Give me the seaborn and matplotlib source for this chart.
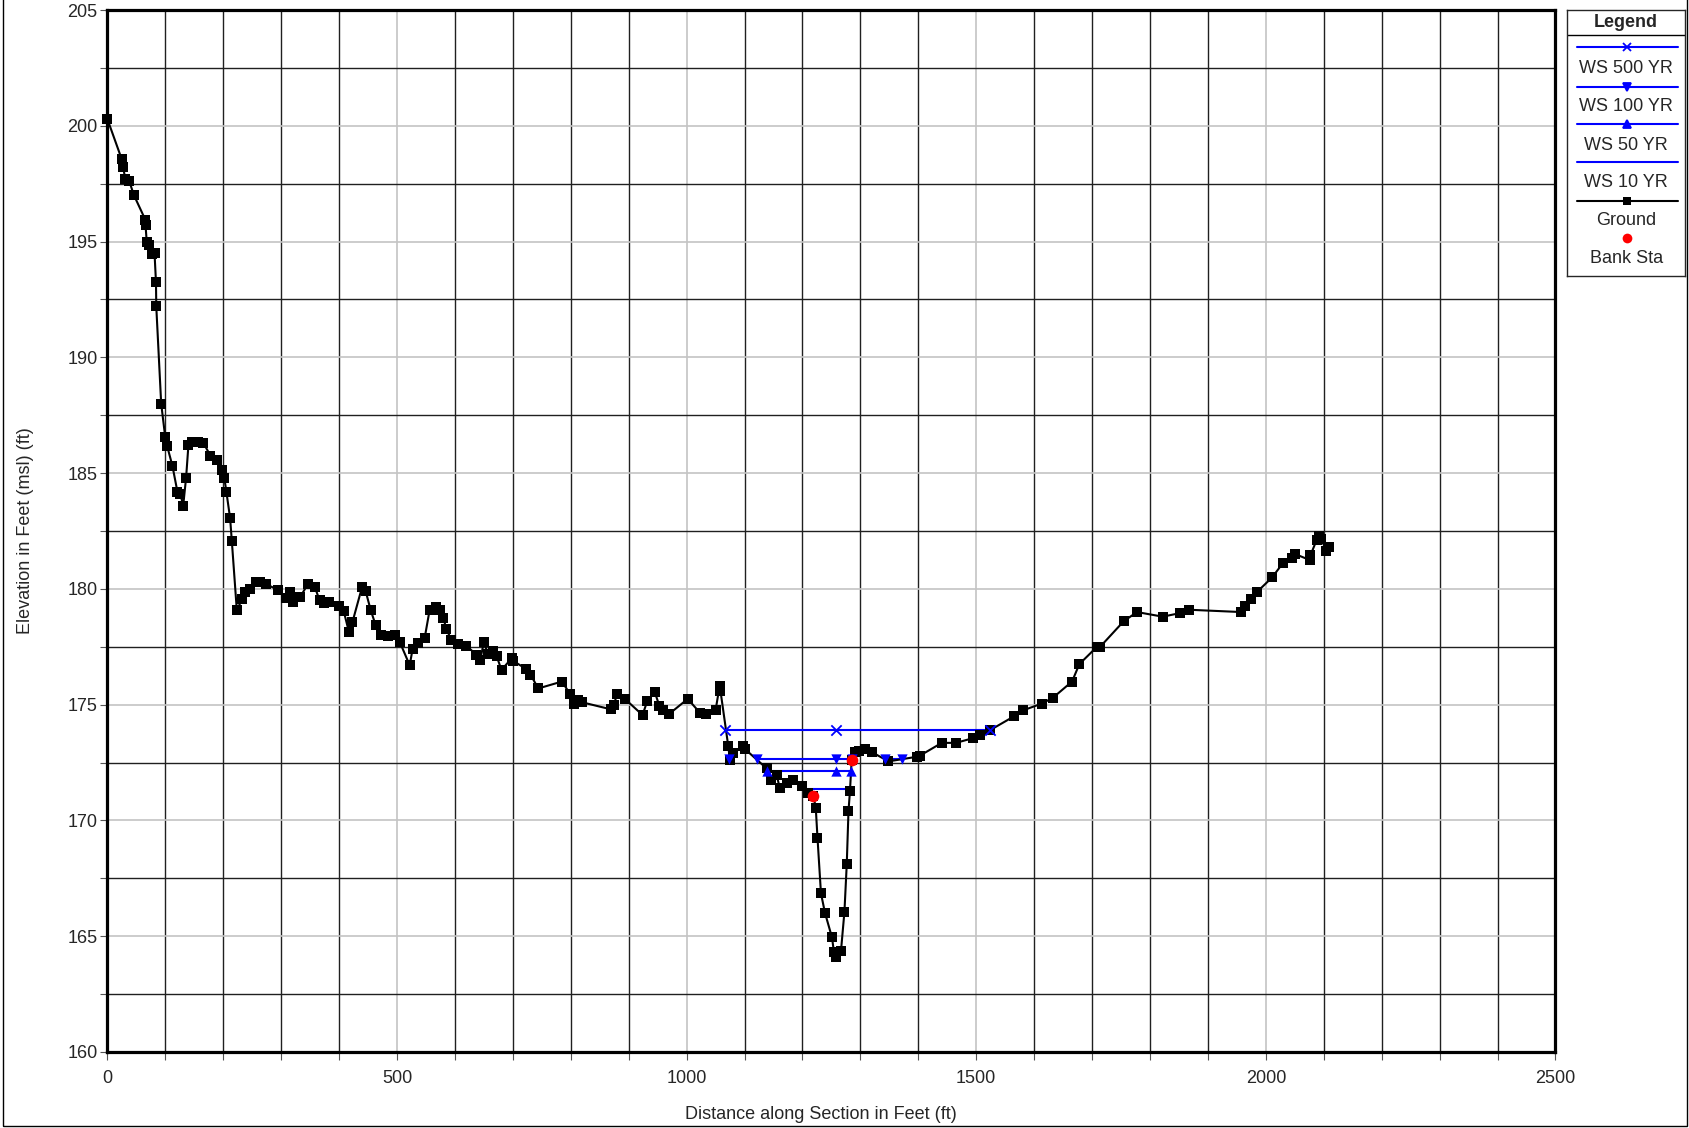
import numpy as np
import pandas as pd
import matplotlib.pyplot as plt
import matplotlib.ticker as mticker
from matplotlib.lines import Line2D
from matplotlib.patches import Rectangle
import seaborn as sns

sns.set_style("white")
plt.rcParams['font.family'] = ['Liberation Sans', 'DejaVu Sans']

# Ground profile (station ft, elevation ft)
ground_sta = [0, 25, 27.5, 31, 38, 46, 65.5, 66, 68, 71.5, 77, 81.5, 84, 84.5, 93, 100, 103.5,
              112.5, 121, 126, 131, 136, 140, 147, 156, 166, 178, 190, 198.5, 202, 205.5, 212,
              215, 223.5, 233, 237, 245.5, 257, 264, 274.5, 295, 309, 315, 320.5, 333, 346,
              358, 366.5, 373.5, 382.5, 400, 408, 417, 423, 440, 446, 454.5, 463, 473, 484.5,
              496, 505, 522, 527, 536.5, 548, 556.5, 567, 574, 580, 585.5, 594, 605.5, 620,
              637, 644, 650, 657, 666, 672, 680.5, 698, 700, 722.5, 730.5, 744, 785, 799, 805,
              813, 820, 869, 874.5, 880, 893.5, 924, 932, 945, 953, 960, 970, 1002, 1023, 1033,
              1050, 1057, 1058.5, 1072, 1075, 1081, 1097, 1100, 1138, 1145.5, 1155.5, 1161,
              1173, 1184, 1199, 1210, 1219, 1223, 1226, 1232, 1239, 1251, 1254.5, 1257.5,
              1266.5, 1272.5, 1276.5, 1279.5, 1282, 1285, 1291, 1298, 1308, 1320, 1348.5,
              1397.5, 1403, 1440.5, 1465, 1494, 1507, 1524, 1565.5, 1580.5, 1613.5, 1632.5,
              1665.5, 1678, 1708.5, 1714, 1754.5, 1777.5, 1822, 1851, 1867, 1957, 1964.5,
              1974.5, 1984, 2011, 2029, 2045.5, 2051, 2075.5, 2077, 2087.5, 2091.5, 2095.5,
              2104.5, 2108.5]
ground_elev = [200.3, 198.55, 198.2, 197.7, 197.6, 197.0, 195.95, 195.7, 195.0, 194.85, 194.45,
               194.5, 193.25, 192.2, 188.0, 186.55, 186.15, 185.3, 184.2, 184.1, 183.6, 184.8,
               186.2, 186.35, 186.35, 186.3, 185.75, 185.55, 185.15, 184.8, 184.2, 183.05,
               182.05, 179.1, 179.55, 179.85, 180.0, 180.3, 180.3, 180.2, 179.95, 179.6, 179.85,
               179.45, 179.65, 180.2, 180.1, 179.5, 179.4, 179.45, 179.25, 179.05, 178.15,
               178.55, 180.1, 179.9, 179.1, 178.45, 178.0, 177.95, 178.0, 177.7, 176.7, 177.4,
               177.65, 177.9, 179.1, 179.2, 179.1, 178.75, 178.25, 177.8, 177.6, 177.55,
               177.15, 176.95, 177.7, 177.2, 177.3, 177.1, 176.5, 177.0, 176.9, 176.55, 176.3,
               175.7, 176.0, 175.45, 175.05, 175.2, 175.1, 174.8, 175.0, 175.45, 175.25,
               174.55, 175.15, 175.55, 174.95, 174.75, 174.6, 175.25, 174.65, 174.6, 174.75,
               175.8, 175.6, 173.2, 172.6, 172.9, 173.2, 173.1, 172.25, 171.75, 171.95, 171.4,
               171.6, 171.75, 171.5, 171.2, 171.05, 170.55, 169.25, 166.85, 166.0, 164.95,
               164.3, 164.1, 164.35, 166.05, 168.1, 170.4, 171.25, 172.6, 172.95, 173.0, 173.1,
               172.95, 172.55, 172.75, 172.8, 173.35, 173.35, 173.55, 173.7, 173.9, 174.5,
               174.75, 175.05, 175.3, 176.0, 176.75, 177.5, 177.5, 178.6, 179.0, 178.8,
               178.95, 179.1, 179.0, 179.25, 179.55, 179.85, 180.5, 181.1, 181.35, 181.5,
               181.25, 181.45, 182.1, 182.3, 182.15, 181.65, 181.8]

# Bank stations
bank_sta = [1219, 1285]
bank_elev = [171.05, 172.6]

# Water surfaces: elevation, wetted segments (start, end), marker stations
ws_names = ['WS 500 YR', 'WS 100 YR', 'WS 50 YR', 'WS 10 YR']
ws_elev = [173.9, 172.65, 172.13, 171.34]
ws_segments = [[(1067, 1524)],
               [(1074, 1074), (1121, 1285), (1343, 1372)],
               [(1138, 1284)],
               [(1206, 1281)]]
ws_marker_sta = [[1067, 1257.5, 1524],
                 [1074, 1121, 1257.5, 1285, 1343, 1372],
                 [1138, 1257.5, 1284],
                 []]
ws_markers = ['x', 'v', '^', None]

ground = pd.DataFrame({'Station': ground_sta, 'Elevation': ground_elev})

fig = plt.figure(figsize=(16.9, 11.28), dpi=100)
ax = fig.add_axes([0.0635, 0.0674, 0.8569, 0.9237])

blue = '#0000ff'
for name, elev, segs, msta, mk in zip(ws_names, ws_elev, ws_segments, ws_marker_sta, ws_markers):
    for x0, x1 in segs:
        sns.lineplot(x=[x0, x1], y=[elev, elev], color=blue, lw=1.5, ax=ax,
                     estimator=None, sort=False, zorder=3)
    if mk:
        sns.scatterplot(x=msta, y=[elev] * len(msta), marker=mk, color=blue, s=55,
                        linewidth=1.3 if mk == 'x' else 0, edgecolor=blue, ax=ax, zorder=5)

sns.lineplot(data=ground, x='Station', y='Elevation', color='black', lw=1.5,
             marker='s', markersize=7, markeredgewidth=0, estimator=None, sort=False,
             ax=ax, zorder=4, clip_on=False)
sns.scatterplot(x=bank_sta, y=bank_elev, color='#ff0000', s=70, linewidth=0, ax=ax, zorder=6)

ax.set_xlim(0, 2500)
ax.set_ylim(160, 205)
ax.xaxis.set_major_locator(mticker.MultipleLocator(500))
ax.xaxis.set_minor_locator(mticker.MultipleLocator(100))
ax.yaxis.set_major_locator(mticker.MultipleLocator(5))
ax.yaxis.set_minor_locator(mticker.MultipleLocator(2.5))
ax.grid(which='major', color='#c4c4c4', lw=1.2, zorder=0)
ax.grid(which='minor', color='#202020', lw=1.0, zorder=0)
ax.set_axisbelow(True)
ax.tick_params(axis='x', which='both', direction='out', length=6, width=0.8,
               color='#555555', pad=7, labelsize=13, bottom=True)
ax.tick_params(axis='y', which='both', direction='out', length=5, width=0.8,
               color='#555555', pad=2, labelsize=13, left=True)
for sp in ax.spines.values():
    sp.set_linewidth(2.3)
    sp.set_color('black')
ax.set_xlabel('Distance along Section in Feet (ft)', fontsize=13)
ax.xaxis.set_label_coords(0.493, -0.052)
ax.set_ylabel('Elevation in Feet (msl) (ft)', fontsize=13, labelpad=24)

# Legend box (pixel-like coordinates)
lg = fig.add_axes([0.9270, 0.7553, 0.0702, 0.2358])
lg.set_xlim(1566.7, 1685)
lg.set_ylim(276, 10)
lg.set_xticks([])
lg.set_yticks([])
for sp in lg.spines.values():
    sp.set_linewidth(1.0)
lg.text(1626, 22.5, 'Legend', ha='center', va='center', fontsize=13, fontweight='bold')
lg.axhline(35, color='black', lw=1.0)
item_y = [46.7, 86.7, 124, 162.3]
text_y = [68.3, 106, 145, 182.7]
for name, mk, ly, ty in zip(ws_names, ws_markers, item_y, text_y):
    lg.add_line(Line2D([1576.7, 1678], [ly, ly], color=blue, lw=1.5))
    if mk:
        lg.plot([1626.7], [ly], marker=mk, color=blue, markersize=6, mew=1.3)
    lg.text(1626, ty, name, ha='center', va='center', fontsize=13)
lg.add_line(Line2D([1576.7, 1678], [201, 201], color='black', lw=1.5))
lg.plot([1626.7], [201], marker='s', color='black', markersize=6, mew=0)
lg.text(1626, 220, 'Ground', ha='center', va='center', fontsize=13)
lg.plot([1626.7], [238.3], marker='o', color='#ff0000', markersize=7, mew=0)
lg.text(1626, 258.3, 'Bank Sta', ha='center', va='center', fontsize=13)

# Outer border
fig.patches.append(Rectangle((0.0015, 0.0015), 0.997, 1.01, transform=fig.transFigure,
                             fill=False, edgecolor='black', lw=1.0))

fig.savefig('out.png', dpi=100)
